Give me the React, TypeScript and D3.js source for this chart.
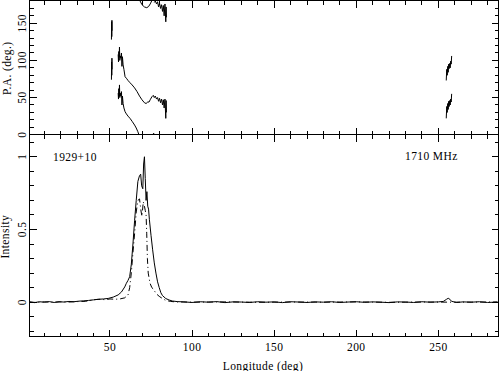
import * as React from "react";
import * as d3 from "d3";

// total intensity (solid)
const lonTotal = [1, 4, 7, 10, 13, 16, 19, 22, 25, 28, 31, 34, 37, 40, 43, 46, 49, 52, 55, 57, 59, 60, 61, 62, 63, 64, 65, 66, 67, 68, 68.7, 69.3, 70, 70.5, 71, 71.5, 72, 72.5, 73, 73.5, 74, 75, 76, 77, 78, 79, 80, 81, 82, 84, 86, 88, 91, 95, 100, 105, 110, 115, 120, 125, 130, 135, 140, 145, 150, 155, 160, 165, 170, 175, 180, 185, 190, 195, 200, 205, 210, 215, 220, 225, 230, 235, 240, 245, 250, 253, 255, 256, 257, 258, 261, 265, 270, 275, 280, 286];
const total = [0.002, -0.003, 0.003, 0.0, 0.004, -0.002, 0.003, 0.001, 0.005, 0.003, 0.007, 0.009, 0.012, 0.016, 0.02, 0.022, 0.026, 0.035, 0.05, 0.07, 0.105, 0.13, 0.15, 0.175, 0.26, 0.4, 0.56, 0.7, 0.83, 0.87, 0.88, 0.8, 0.78, 0.95, 1.0, 0.85, 0.7, 0.76, 0.66, 0.64, 0.57, 0.46, 0.36, 0.27, 0.2, 0.14, 0.1, 0.065, 0.045, 0.025, 0.015, 0.008, 0.004, 0.002, -0.002, 0.003, 0.0, 0.004, -0.003, 0.002, 0.001, -0.002, 0.003, 0.0, 0.002, -0.003, 0.003, 0.001, -0.002, 0.002, 0.0, 0.003, -0.002, 0.001, 0.003, -0.001, 0.002, 0.0, -0.003, 0.002, 0.001, -0.002, 0.003, 0.0, 0.002, 0.005, 0.02, 0.027, 0.02, 0.006, -0.002, 0.002, 0.0, 0.003, -0.002, 0.001];

// linear polarisation (dash-dot)
const lonLinear = [1, 5, 10, 15, 20, 25, 30, 35, 38, 41, 44, 47, 50, 53, 56, 59, 61, 62, 63, 64, 65, 66, 67, 68, 69, 69.5, 70.3, 71, 71.5, 72, 72.4, 72.8, 73.3, 74.4, 75.5, 76.5, 78, 80, 82, 84, 87, 90, 100, 120, 140, 160, 180, 200, 220, 240, 260, 286];
const linear = [0.001, -0.002, 0.002, 0.0, 0.002, 0.001, 0.004, 0.006, 0.012, 0.018, 0.02, 0.017, 0.022, 0.02, 0.022, 0.03, 0.05, 0.1, 0.2, 0.34, 0.47, 0.62, 0.7, 0.71, 0.62, 0.59, 0.69, 0.66, 0.63, 0.6, 0.47, 0.3, 0.2, 0.13, 0.1, 0.09, 0.06, 0.04, 0.025, 0.012, 0.005, 0.002, 0.0, 0.002, -0.001, 0.001, 0.0, 0.002, -0.001, 0.001, 0.0, 0.001];

// position angle, two traces; null = gap
const paUpper: ([number, number] | null)[] = [
  [50.9, 128], [51.0, 152], [51.1, 132], [51.2, 154], [51.3, 140], null,
  [55.0, 108], [55.2, 98], [55.4, 112], [55.6, 104], [55.8, 118], [56.0, 100], [56.3, 106], [56.6, 103],
  [57.0, 110], [57.3, 92], [57.6, 105], [58.0, 94], [58.5, 88], [59.2, 78], [60, 76], [61, 73], [62.2, 70],
  [63.5, 67], [65, 63], [66.5, 58], [68, 52], [69.5, 47], [71, 43], [72, 42], [73, 44], [73.8, 44],
  [74.5, 47], [75.5, 51], [76.4, 53], [77, 50], [77.6, 52], [78.4, 48], [79, 50], [79.6, 45], [80.2, 49],
  [80.8, 43], [81.4, 48], [82, 40], [82.5, 47], [83, 36], [83.5, 48], [84, 22], [84.2, 46], [84.4, 30], null,
  [254.8, 73], [255.1, 88], [255.4, 80], [255.7, 92], [256, 84], [256.3, 95], [256.6, 89], [256.9, 96],
  [257.2, 90], [257.5, 99], [257.8, 95], [258.1, 106],
];
const paLower: ([number, number] | null)[] = [
  [50.9, 74], [51.0, 98], [51.1, 80], [51.2, 103], [51.3, 88], null,
  [55.0, 56], [55.2, 48], [55.4, 62], [55.6, 52], [55.8, 67], [56.0, 50], [56.3, 56], [56.6, 52],
  [57.0, 58], [57.3, 40], [57.6, 52], [58.0, 42], [58.5, 36], [59.2, 31], [60, 28], [61, 25], [62.2, 22],
  [63.5, 18], [65, 13], [66, 9], [67, 4], [67.8, -1], null,
  [68.1, 181], [69.5, 175], [71, 172], [72.4, 171], [73.5, 172.5], [74.5, 176], [75.4, 180], [76, 182], null,
  [76.2, 0.5], [76.6, 2], [77, 0.5], null,
  [77, 178], [77.6, 180], [78.4, 176], [79, 179], [79.6, 172], [80.2, 177], [80.8, 170], [81.4, 175],
  [82, 166], [82.5, 174], [83, 160], [83.5, 176], [84, 152], [84.2, 172], [84.4, 158], null,
  [254.8, 22], [255.1, 38], [255.4, 30], [255.7, 42], [256, 34], [256.3, 45], [256.6, 38], [256.9, 46],
  [257.2, 40], [257.5, 48], [257.8, 44], [258.1, 55],
];

const xMajor = [50, 100, 150, 200, 250];
const paMajor = [0, 50, 100, 150];
const intMajor = [0, 0.5, 1];

const W = 499, H = 371;
const L = 29.5, R = 498.5;
const TOP0 = 0.5, MID = 134.5, BOT = 336.5;
const font = "'Liberation Serif', 'DejaVu Serif', serif";

export default function App() {
  const x = d3.scaleLinear().domain([1, 286.5]).range([L, 498.3]);
  const yPA = d3.scaleLinear().domain([0, 180]).range([134.7, 1]);
  const yI = d3.scaleLinear().domain([-0.236, 1.153]).range([BOT, MID]);

  const xMinor = d3.range(10, 290, 10).filter((v) => v % 50 !== 0);
  const paMinor = d3.range(10, 180, 10).filter((v) => v % 50 !== 0);
  const intMinor = d3.range(-2, 12, 1).map((v) => v / 10).filter((v) => Math.abs(v % 0.5) > 1e-6);

  const lineI = d3.line<number>().x((_, i) => x(lonTotal[i])).y((d) => yI(d));
  const lineL = d3.line<number>().x((_, i) => x(lonLinear[i])).y((d) => yI(d));
  const linePA = d3
    .line<[number, number] | null>()
    .defined((d) => d !== null)
    .x((d) => x(d![0]))
    .y((d) => yPA(d![1]));

  const tickLines: JSX.Element[] = [];
  const MAJ = 7, MIN = 4;
  // x ticks on both panels, top and bottom edges
  [TOP0, MID, BOT].forEach((yy, k) => {
    const dirs = k === 0 ? [1] : k === 1 ? [-1, 1] : [-1];
    dirs.forEach((dir) => {
      xMajor.forEach((v) =>
        tickLines.push(<line key={`xM${k}${dir}${v}`} x1={x(v)} x2={x(v)} y1={yy} y2={yy + dir * MAJ} />)
      );
      xMinor.forEach((v) =>
        tickLines.push(<line key={`xm${k}${dir}${v}`} x1={x(v)} x2={x(v)} y1={yy} y2={yy + dir * MIN} />)
      );
    });
  });
  // y ticks, left and right
  [L, R].forEach((xx, k) => {
    const dir = k === 0 ? 1 : -1;
    paMajor.forEach((v) =>
      tickLines.push(<line key={`pM${k}${v}`} x1={xx} x2={xx + dir * MAJ} y1={yPA(v)} y2={yPA(v)} />)
    );
    paMinor.forEach((v) =>
      tickLines.push(<line key={`pm${k}${v}`} x1={xx} x2={xx + dir * MIN} y1={yPA(v)} y2={yPA(v)} />)
    );
    intMajor.forEach((v) =>
      tickLines.push(<line key={`iM${k}${v}`} x1={xx} x2={xx + dir * MAJ} y1={yI(v)} y2={yI(v)} />)
    );
    intMinor.forEach((v) =>
      tickLines.push(<line key={`im${k}${v}`} x1={xx} x2={xx + dir * MIN} y1={yI(v)} y2={yI(v)} />)
    );
  });

  return (
    <svg width={W} height={H} style={{ position: "absolute", left: 0, top: 0, background: "#fff" }}>
      <defs>
        <clipPath id="clipTop">
          <rect x={L} y={TOP0} width={R - L} height={MID - TOP0} />
        </clipPath>
        <clipPath id="clipBot">
          <rect x={L} y={MID} width={R - L} height={BOT - MID} />
        </clipPath>
      </defs>

      <g clipPath="url(#clipTop)" fill="none" stroke="#000" strokeWidth={1}>
        <path d={linePA(paUpper) ?? ""} />
        <path d={linePA(paLower) ?? ""} />
      </g>

      <g clipPath="url(#clipBot)" fill="none" stroke="#000" strokeWidth={1}>
        <path d={lineI(total) ?? ""} />
        <path d={lineL(linear) ?? ""} strokeDasharray="6,3,1,3" />
      </g>

      <g stroke="#000" strokeWidth={1} fill="none" shapeRendering="crispEdges">
        <rect x={L} y={TOP0} width={R - L} height={MID - TOP0} />
        <rect x={L} y={MID} width={R - L} height={BOT - MID} />
        {tickLines}
      </g>

      <g fontFamily={font} fontSize={11.5} fill="#000" letterSpacing={0.4}>
        {xMajor.map((v) => (
          <text key={`xl${v}`} x={x(v)} y={350.5} textAnchor="middle">
            {v}
          </text>
        ))}
        {paMajor.map((v) => (
          <text key={`pl${v}`} transform={`translate(25.5,${yPA(v)}) rotate(-90)`} textAnchor="middle">
            {v}
          </text>
        ))}
        {intMajor.map((v) => (
          <text key={`il${v}`} transform={`translate(25.5,${yI(v)}) rotate(-90)`} textAnchor="middle">
            {v}
          </text>
        ))}
        <text transform={`translate(10.5,68.3) rotate(-90)`} textAnchor="middle">
          P.A. (deg.)
        </text>
        <text transform={`translate(9,236.7) rotate(-90)`} textAnchor="middle">
          Intensity
        </text>
        <text x={263} y={369.5} textAnchor="middle">
          Longitude (deg)
        </text>
        <text x={53} y={160.5}>1929+10</text>
        <text x={405} y={160}>1710 MHz</text>
      </g>
    </svg>
  );
}
